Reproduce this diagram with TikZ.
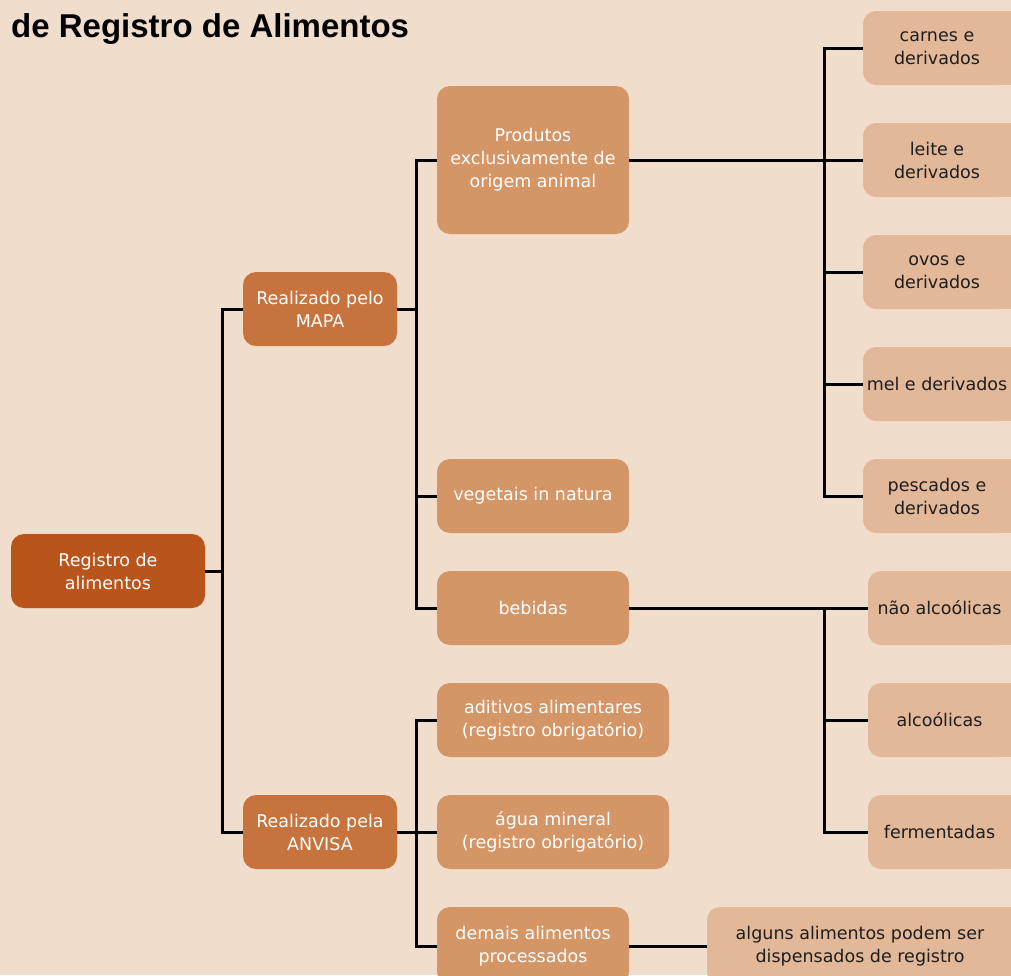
\documentclass[tikz,border=0pt]{standalone}
\usepackage{fontspec}
\setmainfont{DejaVu Sans}
\newfontfamily\titlefont{Liberation Sans}
\definecolor{bg}{HTML}{F0DDCC}
\definecolor{croot}{HTML}{B9541A}
\definecolor{cone}{HTML}{C6733E}
\definecolor{ctwo}{HTML}{D49567}
\definecolor{cthree}{HTML}{E3B898}
\definecolor{ctext}{HTML}{1E1E1E}
\begin{document}
\begin{tikzpicture}[x=1pt,y=-1pt,
  box/.style={rounded corners=13pt,inner sep=0pt,align=center,font=\fontsize{17.5}{23}\selectfont},
  lroot/.style={box,fill=croot,text=white},
  lone/.style={box,fill=cone,text=white},
  ltwo/.style={box,fill=ctwo,text=white},
  lthree/.style={box,fill=cthree,text=ctext},
  conn/.style={draw=black,line width=3pt}]
\fill[bg] (0,0) rectangle (1011,975);
\useasboundingbox (0,0) rectangle (1011,975);
\node[anchor=base west,inner sep=0pt,font=\titlefont\fontsize{33}{38}\selectfont\bfseries] (title) at (11,37) {de Registro de Alimentos};
\newcommand{\bx}[7]{\node[#1,minimum width=#4pt-#2pt,minimum height=#5pt-#3pt] (#6) at ({(#2+#4)/2},{(#3+#5)/2}) {#7};}
\newcommand{\sq}[2]{\fill[cthree] (995,#1) rectangle (1025,#2);}
\sq{11}{85}\sq{123}{197}\sq{235}{309}\sq{347}{421}\sq{459}{533}
\sq{571}{645}\sq{683}{757}\sq{795}{869}\sq{907}{985}
\bx{lroot}{11}{534}{205}{608}{root}{Registro de\\alimentos}
\bx{lone}{243}{272}{397}{346}{mapa}{Realizado pelo\\MAPA}
\bx{lone}{243}{795}{397}{869}{anvisa}{Realizado pela\\ANVISA}
\bx{ltwo}{437}{86}{629}{234}{prod}{Produtos\\exclusivamente de\\origem animal}
\bx{ltwo}{437}{459}{629}{533}{veg}{vegetais in natura}
\bx{ltwo}{437}{571}{629}{645}{beb}{bebidas}
\bx{ltwo}{437}{683}{669}{757}{adit}{aditivos alimentares\\(registro obrigatório)}
\bx{ltwo}{437}{795}{669}{869}{agua}{água mineral\\(registro obrigatório)}
\bx{ltwo}{437}{907}{629}{985}{dem}{demais alimentos\\processados}
\bx{lthree}{707}{907}{1013}{985}{alg}{alguns alimentos podem ser\\dispensados de registro}
\bx{lthree}{863}{11}{1011}{85}{carn}{carnes e\\derivados}
\bx{lthree}{863}{123}{1011}{197}{leit}{leite e\\derivados}
\bx{lthree}{863}{235}{1011}{309}{ovos}{ovos e\\derivados}
\bx{lthree}{863}{347}{1011}{421}{mel}{mel e derivados}
\bx{lthree}{863}{459}{1011}{533}{pesc}{pescados e\\derivados}
\bx{lthree}{868}{571}{1011}{645}{nalc}{não alcoólicas}
\bx{lthree}{868}{683}{1011}{757}{alc}{alcoólicas}
\bx{lthree}{868}{795}{1011}{869}{ferm}{fermentadas}
% connectors
\coordinate (j0) at (222,571);
\draw[conn] (root.east) -- (j0);
\draw[conn] (mapa.west) -| (j0) |- (anvisa.west);
\coordinate (j1) at (416,309);
\draw[conn] (mapa.east) -- (j1);
\draw[conn] (prod.west) -| (j1) |- (beb.west);
\draw[conn] (j1 |- veg.west) -- (veg.west);
\coordinate (j2) at (416,832);
\draw[conn] (anvisa.east) -- (j2);
\draw[conn] (adit.west) -| (j2) |- (dem.west);
\draw[conn] (j2 |- agua.west) -- (agua.west);
\coordinate (j3) at (824,160);
\draw[conn] (prod.east) -- (j3);
\draw[conn] (carn.west) -| (j3) |- (pesc.west);
\draw[conn] (j3) -- (leit.west);
\draw[conn] (j3 |- ovos.west) -- (ovos.west);
\draw[conn] (j3 |- mel.west) -- (mel.west);
\coordinate (j4) at (824,608);
\draw[conn] (beb.east) -- (j4);
\draw[conn] (j4) -- (nalc.west);
\draw[conn] (j4) |- (ferm.west);
\draw[conn] (j4 |- alc.west) -- (alc.west);
\draw[conn] (dem.east) -- (alg.west);
\end{tikzpicture}
\end{document}
